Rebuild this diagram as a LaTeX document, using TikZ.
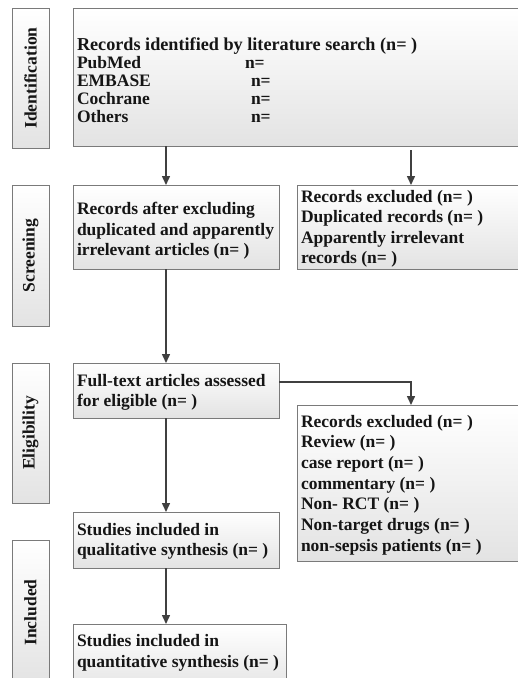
\documentclass[tikz,border=0pt]{standalone}
\usepackage{fontspec}
\setmainfont{Liberation Serif}
\usetikzlibrary{arrows.meta}
\definecolor{boxgray}{HTML}{7A7A7A}
\definecolor{arrcol}{HTML}{404040}
\definecolor{textcol}{HTML}{151515}
\tikzset{
  box/.style={draw=boxgray, line width=1pt, top color=white, bottom color=black!11,
    inner sep=0pt, outer sep=0pt, anchor=north west},
  txt/.style={anchor=base west, inner sep=0pt, outer sep=0pt,
    font=\bfseries\fontsize{17.5}{20.5}\selectfont, text=textcol},
  bigtxt/.style={txt, font=\bfseries\fontsize{18.2}{20.5}\selectfont},
  sidetxt/.style={rotate=90, inner sep=0pt, font=\bfseries\fontsize{17.5}{20.5}\selectfont, text=textcol},
  arr/.style={-{Triangle[width=8pt,length=9pt]}, line width=1.5pt, draw=arrcol},
}
\begin{document}
\begin{tikzpicture}[x=1pt,y=-1pt]
\useasboundingbox (0,0) rectangle (518,678);
\clip (0,0) rectangle (518,678);
\fill[white] (0,0) rectangle (518,678);

% side boxes
\node[box, minimum width=37pt, minimum height=140pt] (sid) at (12,8) {};
\node[sidetxt] (sidt) at (sid.center) {Identification};
\node[box, minimum width=37pt, minimum height=141pt] (sscr) at (12,185) {};
\node[sidetxt] (sscrt) at (sscr.center) {Screening};
\node[box, minimum width=37pt, minimum height=140pt] (sel) at (12,363) {};
\node[sidetxt] (selt) at (sel.center) {Eligibility};
\node[box, minimum width=37pt, minimum height=145pt] (sinc) at (12,540) {};
\node[sidetxt] (sinct) at (sinc.center) {Included};

% main boxes
\node[box, minimum width=460pt, minimum height=138pt] (top) at (73,8) {};
\node[bigtxt] (t1) at (77,50) {Records identified by literature search (n= )};
\node[txt] (t2) at (77,68.2) {PubMed};
\node[txt] (t2n) at (245,68.2) {n=};
\node[txt] (t3) at (77,86.4) {EMBASE};
\node[txt] (t3n) at (251,86.4) {n=};
\node[txt] (t4) at (77,104.6) {Cochrane};
\node[txt] (t4n) at (251,104.6) {n=};
\node[txt] (t5) at (77,122.8) {Others};
\node[txt] (t5n) at (251,122.8) {n=};

\node[box, minimum width=206pt, minimum height=84pt] (scr) at (73,185) {};
\node[txt] (s1) at (77,214.5) {Records after excluding};
\node[txt] (s2) at (77,235) {duplicated and apparently};
\node[txt] (s3) at (77,255.5) {irrelevant articles (n= )};

\node[box, minimum width=240pt, minimum height=84pt] (ex1) at (297,185) {};
\node[txt] (e1) at (301,202) {Records excluded (n= )};
\node[txt] (e2) at (301,222.5) {Duplicated records (n= )};
\node[txt] (e3) at (301,243) {Apparently irrelevant};
\node[txt] (e4) at (301,263.5) {records (n= )};

\node[box, minimum width=206pt, minimum height=55pt] (full) at (73,363) {};
\node[txt] (f1) at (77,386) {Full-text articles assessed};
\node[txt] (f2) at (77,406.5) {for eligible (n= )};

\node[box, minimum width=240pt, minimum height=156pt] (ex2) at (297,405) {};
\node[txt] (x1) at (301,427) {Records excluded (n= )};
\node[txt] (x2) at (301,447.7) {Review (n= )};
\node[txt] (x3) at (301,468.4) {case report (n= )};
\node[txt] (x4) at (301,489) {commentary (n= )};
\node[txt] (x5) at (301,509.8) {Non- RCT (n= )};
\node[txt] (x6) at (301,530.5) {Non-target drugs (n= )};
\node[txt] (x7) at (301,551) {non-sepsis patients (n= )};

\node[box, minimum width=206pt, minimum height=56pt] (qual) at (73,512) {};
\node[txt] (q1) at (77,535) {Studies included in};
\node[txt] (q2) at (77,555.7) {qualitative synthesis (n= )};

\node[box, minimum width=213pt, minimum height=70pt] (quan) at (73,624) {};
\node[txt] (n1) at (77,646.7) {Studies included in};
\node[txt] (n2) at (77,667.5) {quantitative synthesis (n= )};

% connectors
\coordinate (cl) at (166,0);
\coordinate (cr) at (411,0);
\coordinate (ce) at (0,382);
\draw[arr] (cl |- top.south) -- (cl |- scr.north);
\draw[arr, shorten <=4pt] (cr |- top.south) -- (cr |- ex1.north);
\draw[arr] (cl |- scr.south) -- (cl |- full.north);
\draw[arr] (full.east |- ce) -| (cr |- ex2.north);
\draw[arr] (cl |- full.south) -- (cl |- qual.north);
\draw[arr] (cl |- qual.south) -- (cl |- quan.north);
\end{tikzpicture}
\end{document}
